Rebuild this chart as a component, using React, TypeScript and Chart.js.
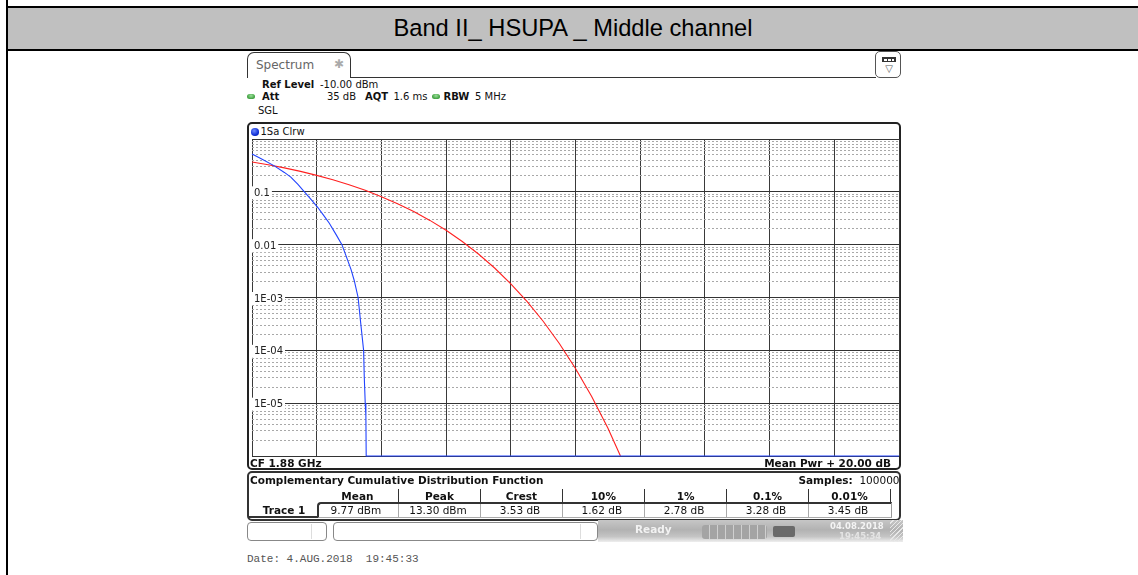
import React, { useEffect, useRef } from "react";
import { Chart, registerables } from "chart.js";

Chart.register(...registerables);

const UI_FONT = '"DejaVu Sans", Verdana, sans-serif';

// Trace 1: measured CCDF (power above mean in dB -> probability)
const traceDb = [0, 0.3, 0.69, 1.0, 1.2, 1.42, 1.62, 1.85, 2.03, 2.22, 2.39, 2.6, 2.78, 2.95, 3.06, 3.16, 3.28, 3.36, 3.45, 3.47, 3.5, 3.52, 3.53, 20];
const traceProb = [0.52, 0.42, 0.31, 0.233, 0.19, 0.138, 0.1, 0.069, 0.051, 0.0355, 0.0255, 0.0155, 0.01, 0.0052, 0.0034, 0.0021, 0.001, 0.00033, 0.0001, 0.000032, 0.00001, 0.000006, 0.000001, 0.000001];

// Gaussian reference curve (red)
const refDb = [0, 0.5, 1, 1.5, 2, 2.5, 3, 3.5, 4, 4.5, 5, 5.5, 6, 6.5, 7, 7.5, 8, 8.5, 9, 9.5, 10, 10.5, 11, 11.39];
const refProb = [0.368, 0.326, 0.284, 0.244, 0.205, 0.169, 0.136, 0.107, 0.081, 0.0597, 0.0423, 0.0288, 0.0187, 0.0115, 0.00666, 0.00362, 0.00182, 0.000843, 0.000355, 0.000135, 0.0000454, 0.0000134, 0.0000034, 0.000001];

// Axis divisions
const xDivDb = [0, 2, 4, 6, 8, 10, 12, 14, 16, 18, 20];
const decadeProb = [1, 0.1, 0.01, 0.001, 0.0001, 0.00001, 0.000001];
const decadeLabels = ["", "0.1", "0.01", "1E-03", "1E-04", "1E-05", ""];
const minorSteps = [2, 3, 4, 5, 6, 7, 8, 9];

// Result table
const statHeads = ["Mean", "Peak", "Crest", "10%", "1%", "0.1%", "0.01%"];
const statValues = ["9.77 dBm", "13.30 dBm", "3.53 dB", "1.62 dB", "2.78 dB", "3.28 dB", "3.45 dB"];

const colEdges = [316.5, 398.3, 480.7, 562.3, 644.5, 726.7, 808.3, 890.7];

type TxtProps = {
  x: number;
  y: number;
  children: React.ReactNode;
  size?: number;
  bold?: boolean;
  color?: string;
  align?: "left" | "right" | "center";
  font?: string;
  pre?: boolean;
};

function Txt({ x, y, children, size = 10, bold = false, color = "#111", align = "left", font = UI_FONT, pre = false }: TxtProps) {
  const style: React.CSSProperties = {
    position: "absolute",
    top: y - 8,
    height: 16,
    lineHeight: "16px",
    fontSize: size,
    fontWeight: bold ? "bold" : "normal",
    color,
    fontFamily: font,
    whiteSpace: pre ? "pre" : "nowrap",
  };
  if (align === "left") style.left = x;
  else if (align === "right") style.right = 1138 - x;
  else {
    style.left = x - 100;
    style.width = 200;
    style.textAlign = "center";
  }
  return <div style={style}>{children}</div>;
}

function Box(props: { s: React.CSSProperties; children?: React.ReactNode }) {
  return <div style={{ position: "absolute", boxSizing: "border-box", ...props.s }}>{props.children}</div>;
}

function CcdfPlot() {
  const ref = useRef<HTMLCanvasElement>(null);

  useEffect(() => {
    const minorProb: number[] = [];
    for (let d = 1e-6; d < 1; d *= 10) {
      minorSteps.forEach((m) => minorProb.push(Number((m * d).toPrecision(3))));
    }

    const chart = new Chart(ref.current as HTMLCanvasElement, {
      type: "line",
      data: {
        datasets: [
          {
            label: "Trace 1",
            data: traceDb.map((x, i) => ({ x, y: traceProb[i] })),
            borderColor: "#2244ff",
            borderWidth: 1.1,
            pointRadius: 0,
            tension: 0,
            clip: 3,
          },
          {
            label: "Gauss",
            data: refDb.map((x, i) => ({ x, y: refProb[i] })),
            borderColor: "#ff2020",
            borderWidth: 1.1,
            pointRadius: 0,
            tension: 0,
            clip: 3,
          },
        ],
      },
      options: {
        animation: false,
        responsive: false,
        devicePixelRatio: 1,
        layout: { padding: { left: 0, right: 3, top: 3, bottom: 3 } },
        plugins: {
          legend: { display: false },
          tooltip: { enabled: false },
          title: { display: false },
        },
        events: [],
        scales: {
          x: {
            type: "linear",
            min: 0,
            max: 20,
            position: "bottom",
            afterBuildTicks: (s: any) => {
              s.ticks = xDivDb.map((v) => ({ value: v }));
            },
            ticks: { display: false },
            grid: { color: "#3a3a3a", lineWidth: 1, drawTicks: false },
            border: { display: false },
          },
          y: {
            type: "logarithmic",
            min: 1e-6,
            max: 1,
            position: "left",
            afterBuildTicks: (s: any) => {
              s.ticks = minorProb.map((v) => ({ value: v }));
            },
            ticks: { display: false },
            grid: { color: "#a8a8a8", lineWidth: 1, drawTicks: false },
            border: { display: false, dash: [2, 2] },
          },
          y2: {
            type: "logarithmic",
            min: 1e-6,
            max: 1,
            position: "left",
            afterBuildTicks: (s: any) => {
              s.ticks = decadeProb.map((v) => ({ value: v }));
            },
            afterFit: (s: any) => {
              s.paddingTop = 0;
              s.paddingBottom = 0;
            },
            ticks: {
              display: true,
              mirror: true,
              padding: 2,
              autoSkip: false,
              labelOffset: 1.5,
              color: "#222",
              font: { family: UI_FONT, size: 10 },
              showLabelBackdrop: true,
              backdropColor: (ctx: any) => (decadeLabels[ctx.index] ? "#ffffff" : "rgba(0,0,0,0)"),
              backdropPadding: { left: 2, right: 2, top: 1, bottom: 0 },
              callback: (_v: any, i: number) => decadeLabels[i],
            },
            grid: { color: "#333", lineWidth: 1, drawTicks: false },
            border: { display: false },
          },
        },
      } as any,
    });
    return () => chart.destroy();
  }, []);

  return (
    <canvas
      ref={ref}
      width={654}
      height={323}
      style={{ position: "absolute", left: 248, top: 136, width: 654, height: 323 }}
    />
  );
}

function GreenDot({ x, y }: { x: number; y: number }) {
  return (
    <Box
      s={{
        left: x - 4,
        top: y - 2.5,
        width: 8,
        height: 5,
        borderRadius: 3,
        background: "radial-gradient(ellipse at 50% 35%, #9be09b 0%, #3f9f3f 70%)",
      }}
    />
  );
}

export default function App() {
  return (
    <div
      style={{
        position: "fixed",
        left: 0,
        top: 0,
        width: 1138,
        height: 575,
        background: "#fff",
        overflow: "hidden",
      }}
    >
      {/* report table frame */}
      <Box s={{ left: 8, top: 8, width: 1130, height: 41, background: "#c0c0c0" }} />
      <Box s={{ left: 6, top: 6, width: 1132, height: 2, background: "#000" }} />
      <Box s={{ left: 6, top: 49, width: 1132, height: 2, background: "#000" }} />
      <Box s={{ left: 6, top: 0, width: 2, height: 575, background: "#000" }} />
      <div
        style={{
          position: "absolute",
          left: 8,
          width: 1130,
          top: 13,
          height: 30,
          lineHeight: "30px",
          textAlign: "center",
          fontFamily: '"Liberation Sans", Arial, sans-serif',
          fontSize: 23.7,
          color: "#000",
        }}
      >
        Band II_ HSUPA _ Middle channel
      </div>

      {/* tab header */}
      <Box
        s={{
          left: 247,
          top: 52,
          width: 104,
          height: 26,
          border: "1.5px solid #333",
          borderBottom: "none",
          borderRadius: "7px 7px 0 0",
          background: "#fff",
        }}
      />
      <Box s={{ left: 350, top: 76.5, width: 526, height: 1.5, background: "#333" }} />
      <Txt x={256} y={65} size={12} color="#666">Spectrum</Txt>
      <Txt x={334} y={64} size={12} color="#aaa">✱</Txt>
      <Box s={{ left: 875, top: 51, width: 26, height: 27, border: "1.5px solid #555", borderRadius: 5, background: "#fff" }} />
      <Box s={{ left: 882, top: 57, width: 14, height: 5, background: "#333", border: "1px solid #333" }}>
        <Box s={{ left: 1, top: 0.5, width: 3, height: 2, background: "#fff" }} />
        <Box s={{ left: 5, top: 0.5, width: 3, height: 2, background: "#fff" }} />
        <Box s={{ left: 9, top: 0.5, width: 2, height: 2, background: "#fff" }} />
      </Box>
      <Txt x={889} y={69} size={10} color="#555" align="center">▽</Txt>

      {/* instrument settings */}
      <Txt x={262} y={84.5} bold>Ref Level</Txt>
      <Txt x={320} y={84.5}>-10.00 dBm</Txt>
      <GreenDot x={251} y={96.5} />
      <Txt x={262} y={96.5} bold>Att</Txt>
      <Txt x={356} y={96.5} align="right">35 dB</Txt>
      <Txt x={365} y={96.5} bold>AQT</Txt>
      <Txt x={393.5} y={96.5}>1.6 ms</Txt>
      <GreenDot x={436.3} y={96.5} />
      <Txt x={443.5} y={96.5} bold>RBW</Txt>
      <Txt x={475} y={96.5}>5 MHz</Txt>
      <Txt x={258} y={111}>SGL</Txt>

      {/* diagram frame */}
      <Box s={{ left: 247, top: 122, width: 654, height: 348, border: "2px solid #222", borderRadius: 5, background: "#fff" }} />
      <Box
        s={{
          left: 251,
          top: 128,
          width: 7.5,
          height: 7.5,
          borderRadius: "50%",
          background: "radial-gradient(circle at 40% 35%, #6f8cff 0%, #1030d8 60%, #0a1c90 100%)",
        }}
      />
      <Txt x={260.5} y={131.5}>1Sa Clrw</Txt>
      <CcdfPlot />
      <Txt x={250} y={463} bold size={10.5}>CF 1.88 GHz</Txt>
      <Txt x={891} y={463} bold size={10.5} align="right">Mean Pwr + 20.00 dB</Txt>

      {/* CCDF result table */}
      <Box s={{ left: 247, top: 471, width: 654, height: 50, border: "2px solid #333", borderRadius: 5, background: "#fff" }} />
      <Txt x={250} y={480} bold size={10.5}>Complementary Cumulative Distribution Function</Txt>
      <Txt x={899.5} y={480} align="right" size={10.5}>
        <b>Samples:</b>&nbsp; 100000
      </Txt>
      {colEdges.slice(1).map((x, i) => (
        <Box key={"hs" + i} s={{ left: x - 0.75, top: 489, width: 1.5, height: 13, background: "#333" }} />
      ))}
      <Box
        s={{
          left: colEdges[0],
          top: 501.5,
          width: colEdges[7] - colEdges[0] + 1,
          height: 16.5,
          borderTop: "2px solid #333",
          borderLeft: "2px solid #333",
          borderRight: "1px solid #999",
          borderBottom: "1px solid #aaa",
          borderTopLeftRadius: 4,
        }}
      />
      {colEdges.slice(1, 7).map((x, i) => (
        <Box key={"vs" + i} s={{ left: x - 0.5, top: 503.5, width: 1, height: 14, background: "#aaa" }} />
      ))}
      <Box s={{ left: 249, top: 515.5, width: 69, height: 2, background: "#333" }} />
      {statHeads.map((h, i) => (
        <Txt key={"h" + i} x={(colEdges[i] + colEdges[i + 1]) / 2} y={495.5} bold size={10.5} align="center">
          {h}
        </Txt>
      ))}
      {statValues.map((v, i) => (
        <Txt key={"v" + i} x={(colEdges[i] + colEdges[i + 1]) / 2 - 1.5} y={510} size={10.5} align="center">
          {v}
        </Txt>
      ))}
      <Txt x={284} y={510} bold size={10.5} align="center">Trace 1</Txt>

      {/* status bar */}
      <Box s={{ left: 247, top: 522, width: 80, height: 19, border: "1px solid #888", borderRadius: 4, background: "#fff" }} />
      <Box s={{ left: 310.5, top: 524, width: 1, height: 15, background: "#ddd" }} />
      <Box s={{ left: 333, top: 522, width: 265, height: 19, border: "1px solid #888", borderRadius: 4, background: "#fff" }} />
      <Box s={{ left: 580, top: 524, width: 1, height: 15, background: "#ddd" }} />
      <Box
        s={{
          left: 598,
          top: 520,
          width: 305,
          height: 22,
          overflow: "hidden",
          background: "linear-gradient(to bottom, #c6c6c6 0%, #b2b2b2 45%, #c4c4c4 75%, #eeeeee 100%)",
        }}
      >
        <div style={{ position: "absolute", left: 37, top: 3, fontFamily: UI_FONT, fontSize: 10.5, fontWeight: "bold", color: "#f2f2f2" }}>Ready</div>
        <Box
          s={{
            left: 104,
            top: 5,
            width: 65,
            height: 14,
            borderRadius: 3,
            background: "repeating-linear-gradient(to right, #a4a4a4 0px, #a4a4a4 7px, #d0d0d0 7px, #d0d0d0 8px)",
          }}
        />
        <Box s={{ left: 175, top: 6, width: 22, height: 11, borderRadius: 2, background: "#6a6a6a" }} />
        <div style={{ position: "absolute", left: 232, top: 1, fontFamily: UI_FONT, fontSize: 8.5, fontWeight: "bold", color: "#f4f4f4" }}>04.08.2018</div>
        <div style={{ position: "absolute", left: 241, top: 11, fontFamily: UI_FONT, fontSize: 8.5, fontWeight: "bold", color: "#e4e4e4" }}>19:45:34</div>
        <Box
          s={{
            left: 292,
            top: 0,
            width: 13,
            height: 22,
            background: "repeating-linear-gradient(135deg, transparent 0px, transparent 2px, #e8e8e8 2px, #e8e8e8 3px)",
          }}
        />
      </Box>

      <Txt x={247} y={559} size={11} color="#555" font='"Liberation Mono", "DejaVu Sans Mono", monospace' pre>
        {"Date: 4.AUG.2018  19:45:33"}
      </Txt>
    </div>
  );
}
